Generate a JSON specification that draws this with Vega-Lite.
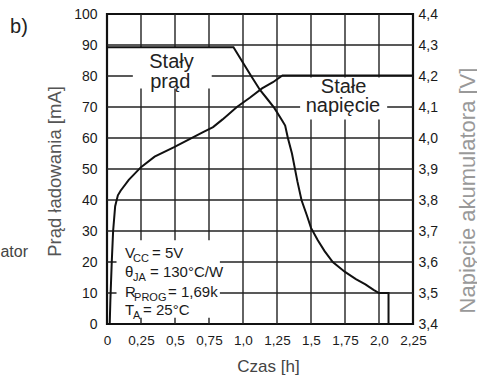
{
  "$schema": "https://vega.github.io/schema/vega-lite/v6.json",
  "width": 306,
  "height": 310,
  "autosize": {"type": "none"},
  "padding": {"left": 107, "top": 14, "right": 64, "bottom": 51},
  "background": "white",
  "config": {
    "font": "Liberation Sans",
    "view": {"stroke": "#111", "strokeWidth": 2.2},
    "axis": {
      "domain": false,
      "ticks": false,
      "grid": false,
      "labelFont": "Liberation Sans",
      "labelFontSize": 14,
      "labelColor": "#1a1a1a",
      "titleFont": "Liberation Sans",
      "titleFontWeight": "normal"
    },
    "text": {"font": "Liberation Sans", "color": "#1a1a1a"}
  },
  "datasets": {
    "gridV": [
      {"g": "v025", "t": 0.25, "mA": 0}, {"g": "v025", "t": 0.25, "mA": 100},
      {"g": "v050", "t": 0.5, "mA": 0}, {"g": "v050", "t": 0.5, "mA": 100},
      {"g": "v075", "t": 0.75, "mA": 0}, {"g": "v075", "t": 0.75, "mA": 100},
      {"g": "v100", "t": 1.0, "mA": 0}, {"g": "v100", "t": 1.0, "mA": 100},
      {"g": "v125", "t": 1.25, "mA": 0}, {"g": "v125", "t": 1.25, "mA": 100},
      {"g": "v150", "t": 1.5, "mA": 0}, {"g": "v150", "t": 1.5, "mA": 100},
      {"g": "v175", "t": 1.75, "mA": 0}, {"g": "v175", "t": 1.75, "mA": 100},
      {"g": "v200", "t": 2.0, "mA": 0}, {"g": "v200", "t": 2.0, "mA": 100}
    ],
    "gridH": [
      {"g": "h10", "t": 0, "mA": 10}, {"g": "h10", "t": 2.25, "mA": 10},
      {"g": "h20", "t": 0, "mA": 20}, {"g": "h20", "t": 2.25, "mA": 20},
      {"g": "h30", "t": 0, "mA": 30}, {"g": "h30", "t": 2.25, "mA": 30},
      {"g": "h40", "t": 0, "mA": 40}, {"g": "h40", "t": 2.25, "mA": 40},
      {"g": "h50", "t": 0, "mA": 50}, {"g": "h50", "t": 2.25, "mA": 50},
      {"g": "h60", "t": 0, "mA": 60}, {"g": "h60", "t": 2.25, "mA": 60},
      {"g": "h70", "t": 0, "mA": 70}, {"g": "h70", "t": 2.25, "mA": 70},
      {"g": "h80", "t": 0, "mA": 80}, {"g": "h80", "t": 2.25, "mA": 80},
      {"g": "h90", "t": 0, "mA": 90}, {"g": "h90", "t": 2.25, "mA": 90}
    ],
    "boxes": [
      {"t": 0.19, "t2": 0.77, "mA": 76, "mA2": 89},
      {"t": 1.42, "t2": 2.06, "mA": 66, "mA2": 79.5},
      {"t": 0.07, "t2": 0.83, "mA": 2, "mA2": 27}
    ],
    "current": [
      {"t": 0, "mA": 89.3}, {"t": 0.93, "mA": 89.3}, {"t": 1.0, "mA": 84.3},
      {"t": 1.06, "mA": 80}, {"t": 1.125, "mA": 75.5}, {"t": 1.18, "mA": 72.5},
      {"t": 1.23, "mA": 69.7}, {"t": 1.29, "mA": 65.5}, {"t": 1.31, "mA": 64},
      {"t": 1.33, "mA": 60}, {"t": 1.36, "mA": 55}, {"t": 1.4, "mA": 46},
      {"t": 1.43, "mA": 40}, {"t": 1.47, "mA": 35}, {"t": 1.5, "mA": 31},
      {"t": 1.55, "mA": 27}, {"t": 1.6, "mA": 23.5}, {"t": 1.66, "mA": 20},
      {"t": 1.75, "mA": 16.8}, {"t": 1.83, "mA": 14.5}, {"t": 1.9, "mA": 12.8},
      {"t": 1.96, "mA": 11}, {"t": 2.0, "mA": 10}, {"t": 2.07, "mA": 10},
      {"t": 2.07, "mA": 0}
    ],
    "voltage": [
      {"t": 0.02, "V": 3.4}, {"t": 0.025, "V": 3.48}, {"t": 0.035, "V": 3.6},
      {"t": 0.045, "V": 3.7}, {"t": 0.06, "V": 3.78}, {"t": 0.08, "V": 3.815},
      {"t": 0.1, "V": 3.83}, {"t": 0.16, "V": 3.865}, {"t": 0.25, "V": 3.906},
      {"t": 0.35, "V": 3.94}, {"t": 0.49, "V": 3.97}, {"t": 0.6, "V": 3.995},
      {"t": 0.71, "V": 4.02}, {"t": 0.78, "V": 4.035}, {"t": 0.85, "V": 4.06},
      {"t": 0.955, "V": 4.1}, {"t": 1.05, "V": 4.13}, {"t": 1.14, "V": 4.16},
      {"t": 1.22, "V": 4.18}, {"t": 1.29, "V": 4.202}, {"t": 2.25, "V": 4.202}
    ],
    "notes": [
      {"t": 0.474, "mA": 82.6, "text": "Stały"},
      {"t": 0.465, "mA": 76.1, "text": "prąd"},
      {"t": 1.74, "mA": 74.5, "text": "Stałe"},
      {"t": 1.735, "mA": 68.4, "text": "napięcie"}
    ],
    "boxMain": [
      {"t": 0.132, "mA": 21.3, "text": "V"},
      {"t": 0.331, "mA": 21.3, "text": "= 5V"},
      {"t": 0.132, "mA": 15.2, "text": "θ"},
      {"t": 0.316, "mA": 15.2, "text": "= 130°C/W"},
      {"t": 0.132, "mA": 8.7, "text": "R"},
      {"t": 0.449, "mA": 8.7, "text": "= 1,69k"},
      {"t": 0.132, "mA": 2.9, "text": "T"},
      {"t": 0.265, "mA": 2.9, "text": "= 25°C"}
    ],
    "boxSub": [
      {"t": 0.191, "mA": 20.0, "text": "CC"},
      {"t": 0.191, "mA": 13.9, "text": "JA"},
      {"t": 0.199, "mA": 7.4, "text": "PROG"},
      {"t": 0.191, "mA": 1.6, "text": "A"}
    ],
    "outside": [
      {"t": -0.647, "mA": 93.9, "text": "b)"}
    ],
    "cut": [
      {"t": -0.581, "mA": 21.7, "text": "ator"}
    ]
  },
  "encoding": {
    "x": {
      "field": "t", "type": "quantitative",
      "scale": {"domain": [0, 2.25], "nice": false, "zero": false},
      "axis": {
        "values": [0, 0.25, 0.5, 0.75, 1, 1.25, 1.5, 1.75, 2, 2.25],
        "labelExpr": "datum.value == 1 ? '1,0' : datum.value == 2 ? '2,0' : replace(format(datum.value, '~g'), '.', ',')",
        "labelFontSize": 13.5,
        "labelPadding": 9,
        "labelOverlap": false,
        "labelFlush": false,
        "grid": false,
        "title": "Czas [h]",
        "titleX": 161,
        "titleY": 42,
        "titleBaseline": "middle",
        "titleAlign": "center",
        "titleFontSize": 17,
        "titleColor": "#444"
      }
    }
  },
  "resolve": {"scale": {"y": "independent"}},
  "layer": [
    {
      "encoding": {
        "y": {
          "field": "mA", "type": "quantitative",
          "scale": {"domain": [0, 100], "nice": false, "zero": false},
          "axis": {
            "values": [0, 10, 20, 30, 40, 50, 60, 70, 80, 90, 100],
            "labelPadding": 10,
            "labelOverlap": false,
            "grid": false,
            "title": "Prąd ładowania [mA]",
            "titleX": -53,
            "titleY": 157,
            "titleAngle": 270,
            "titleBaseline": "middle",
            "titleAlign": "center",
            "titleFontSize": 18.5,
            "titleColor": "#555"
          }
        }
      },
      "layer": [
        {
          "data": {"name": "gridV"},
          "mark": {"type": "line", "stroke": "#222", "strokeWidth": 1.4},
          "encoding": {
            "detail": {"field": "g", "type": "nominal"},
            "order": {"field": "mA", "type": "quantitative"}
          }
        },
        {
          "data": {"name": "gridH"},
          "mark": {"type": "line", "stroke": "#222", "strokeWidth": 1.4},
          "encoding": {
            "detail": {"field": "g", "type": "nominal"}
          }
        },
        {
          "data": {"name": "boxes"},
          "mark": {"type": "rect", "fill": "white", "strokeWidth": 0},
          "encoding": {
            "x2": {"field": "t2"},
            "y2": {"field": "mA2"}
          }
        },
        {
          "data": {"name": "current"},
          "mark": {"type": "line", "stroke": "#111", "strokeWidth": 2, "interpolate": "linear"},
          "encoding": {"order": {"value": 0}}
        },
        {
          "data": {"name": "notes"},
          "mark": {"type": "text", "fontSize": 20, "align": "center", "baseline": "alphabetic", "color": "#222"},
          "encoding": {"text": {"field": "text"}}
        },
        {
          "data": {"name": "boxMain"},
          "mark": {"type": "text", "fontSize": 15, "align": "left", "baseline": "alphabetic", "color": "#1a1a1a"},
          "encoding": {"text": {"field": "text"}}
        },
        {
          "data": {"name": "boxSub"},
          "mark": {"type": "text", "fontSize": 11, "align": "left", "baseline": "alphabetic", "color": "#1a1a1a"},
          "encoding": {"text": {"field": "text"}}
        },
        {
          "data": {"name": "outside"},
          "mark": {"type": "text", "fontSize": 20, "align": "center", "baseline": "alphabetic", "color": "#222"},
          "encoding": {"text": {"field": "text"}}
        },
        {
          "data": {"name": "cut"},
          "mark": {"type": "text", "fontSize": 16, "align": "right", "baseline": "alphabetic", "color": "#444"},
          "encoding": {"text": {"field": "text"}}
        }
      ]
    },
    {
      "data": {"name": "voltage"},
      "mark": {"type": "line", "stroke": "#111", "strokeWidth": 2, "interpolate": "linear"},
      "encoding": {
        "y": {
          "field": "V", "type": "quantitative",
          "scale": {"domain": [3.4, 4.4], "nice": false, "zero": false},
          "axis": {
            "orient": "right",
            "grid": false,
            "values": [3.4, 3.5, 3.6, 3.7, 3.8, 3.9, 4.0, 4.1, 4.2, 4.3, 4.4],
            "labelExpr": "replace(format(datum.value, '.1f'), '.', ',')",
            "labelPadding": 5,
            "title": "Napięcie akumulatora [V]",
            "titleX": 54,
            "titleY": 176,
            "titleAngle": 270,
            "titleBaseline": "middle",
            "titleAlign": "center",
            "titleFontSize": 22,
            "titleColor": "#999"
          }
        }
      }
    }
  ]
}
